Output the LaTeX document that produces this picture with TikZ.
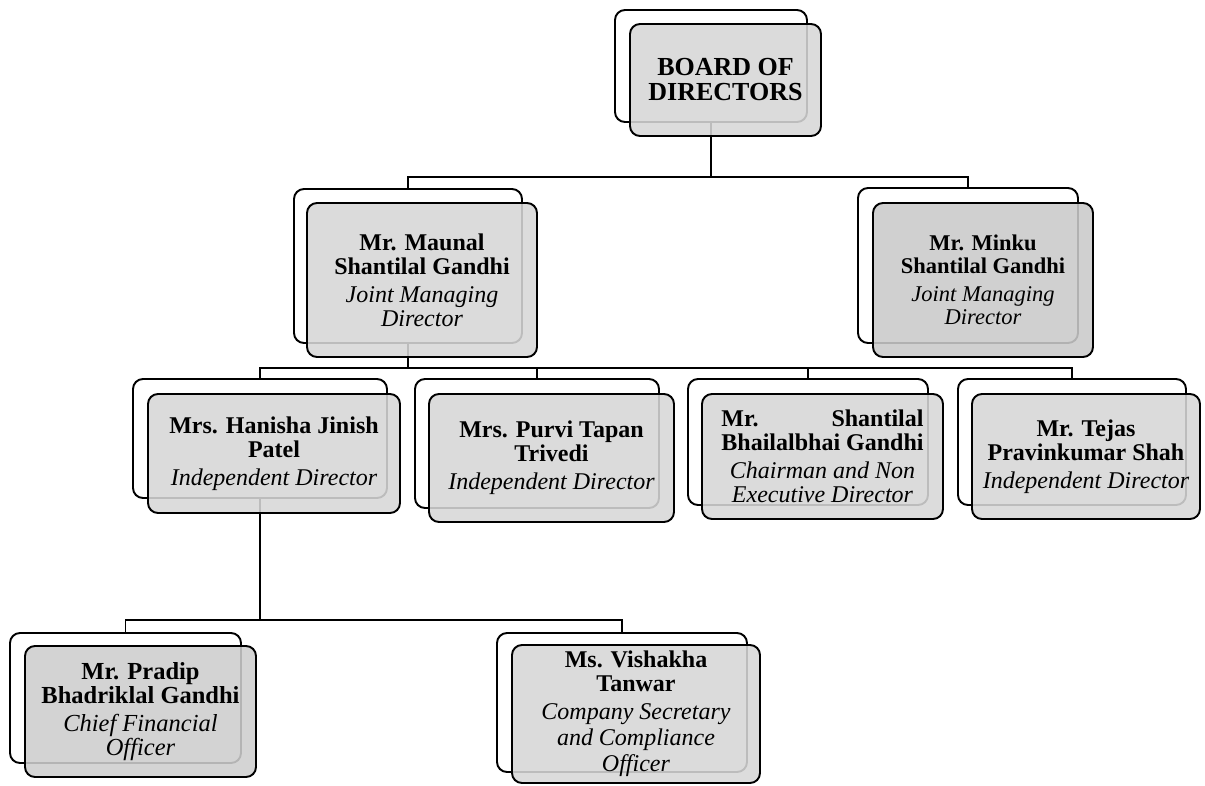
\documentclass[tikz,border=0pt]{standalone}
\usepackage{fontspec}
\setmainfont{Liberation Serif}
\usepackage{calc}
\definecolor{boxgray}{RGB}{215,215,215}
\definecolor{boxgrayB}{RGB}{202,202,202}
\definecolor{boxgrayC}{RGB}{206,206,206}
\tikzset{
  backbox/.style={draw=black, line width=1.9pt, rounded corners=10pt, fill=white,
    anchor=north west, inner sep=0pt, outer sep=0pt},
  frontbox/.style={draw=black, line width=1.9pt, rounded corners=10pt, fill=boxgray,
    fill opacity=0.88, text opacity=1, anchor=north west, inner sep=0pt, outer sep=0pt,
    align=center, font=\fontsize{24}{24}\selectfont},
  conn/.style={draw=black, line width=1.9pt},
}
\begin{document}
\begin{tikzpicture}[x=1pt,y=-1pt]
\useasboundingbox (0,0) rectangle (1205,785);
% back boxes
\node[backbox, minimum width=192, minimum height=112] (bodB) at (615,10) {};
\node[backbox, minimum width=228, minimum height=154] (maunalB) at (294,189) {};
\node[backbox, minimum width=220, minimum height=155] (minkuB) at (858,188) {};
\node[backbox, minimum width=254, minimum height=119] (hanishaB) at (133,379) {};
\node[backbox, minimum width=244, minimum height=129] (purviB) at (415,379) {};
\node[backbox, minimum width=240, minimum height=126] (shantilalB) at (688,379) {};
\node[backbox, minimum width=228, minimum height=126] (tejasB) at (958,379) {};
\node[backbox, minimum width=231, minimum height=130] (pradipB) at (10,633) {};
\node[backbox, minimum width=250, minimum height=139] (vishakhaB) at (497,633) {};
% connectors
\draw[conn] (bodB.south) -- ++(0,55) coordinate (j1);
\draw[conn] (j1) -| (maunalB.north);
\draw[conn] (j1) -| (minkuB.north);
\draw[conn] (maunalB.south) -- ++(0,25) coordinate (j2);
\draw[conn] (j2) -| (hanishaB.north);
\draw[conn] (j2) -| (purviB.north);
\draw[conn] (j2) -| (shantilalB.north);
\draw[conn] (j2) -| (tejasB.north);
\draw[conn] (hanishaB.south) -- ++(0,122) coordinate (j3);
\draw[conn] (j3) -| (pradipB.north);
\draw[conn] (j3) -| (vishakhaB.north);
% front boxes
\node[frontbox, minimum width=191, minimum height=112, font=\fontsize{26}{25}\selectfont\bfseries] (bod) at (630,24)
  {BOARD OF\\DIRECTORS};
\node[frontbox, minimum width=230, minimum height=154] (maunal) at (307,203)
  {\textbf{Mr. Maunal}\\\textbf{Shantilal Gandhi}\\[4pt]\textit{Joint Managing}\\\textit{Director}};
\node[frontbox, fill=boxgrayB, minimum width=220, minimum height=154, font=\fontsize{22.5}{23.5}\selectfont] (minku) at (873,203)
  {\textbf{Mr. Minku}\\\textbf{Shantilal Gandhi}\\[4pt]\textit{Joint Managing}\\\textit{Director}};
\node[frontbox, minimum width=252, minimum height=119] (hanisha) at (148,394)
  {\textbf{Mrs. Hanisha Jinish}\\\textbf{Patel}\\[4pt]\textit{Independent Director}};
\node[frontbox, minimum width=245, minimum height=128] (purvi) at (429,394)
  {\textbf{Mrs. Purvi Tapan}\\\textbf{Trivedi}\\[4pt]\textit{Independent Director}};
\node[frontbox, minimum width=241, minimum height=125] (shantilal) at (702,394)
  {\textbf{\makebox[\widthof{\textbf{Bhailalbhai Gandhi}}]{Mr.\hfill Shantilal}}\\\textbf{Bhailalbhai Gandhi}\\[4pt]\textit{Chairman and Non}\\\textit{Executive Director}};
\node[frontbox, minimum width=228, minimum height=125] (tejas) at (972,394)
  {\textbf{Mr. Tejas}\\\textbf{Pravinkumar Shah}\\[4pt]\textit{Independent Director}};
\node[frontbox, fill=boxgrayC, minimum width=231, minimum height=131, font=\fontsize{24.5}{24}\selectfont] (pradip) at (25,646)
  {\textbf{Mr. Pradip}\\\textbf{Bhadriklal Gandhi}\\[4pt]\textit{Chief Financial}\\\textit{Officer}};
\node[frontbox, minimum width=248, minimum height=138] (vishakha) at (512,645)
  {\textbf{Ms. Vishakha}\\\textbf{Tanwar}\\[4pt]\textit{Company Secretary}\\[2pt]\textit{and Compliance}\\[2pt]\textit{Officer}};
\end{tikzpicture}
\end{document}
